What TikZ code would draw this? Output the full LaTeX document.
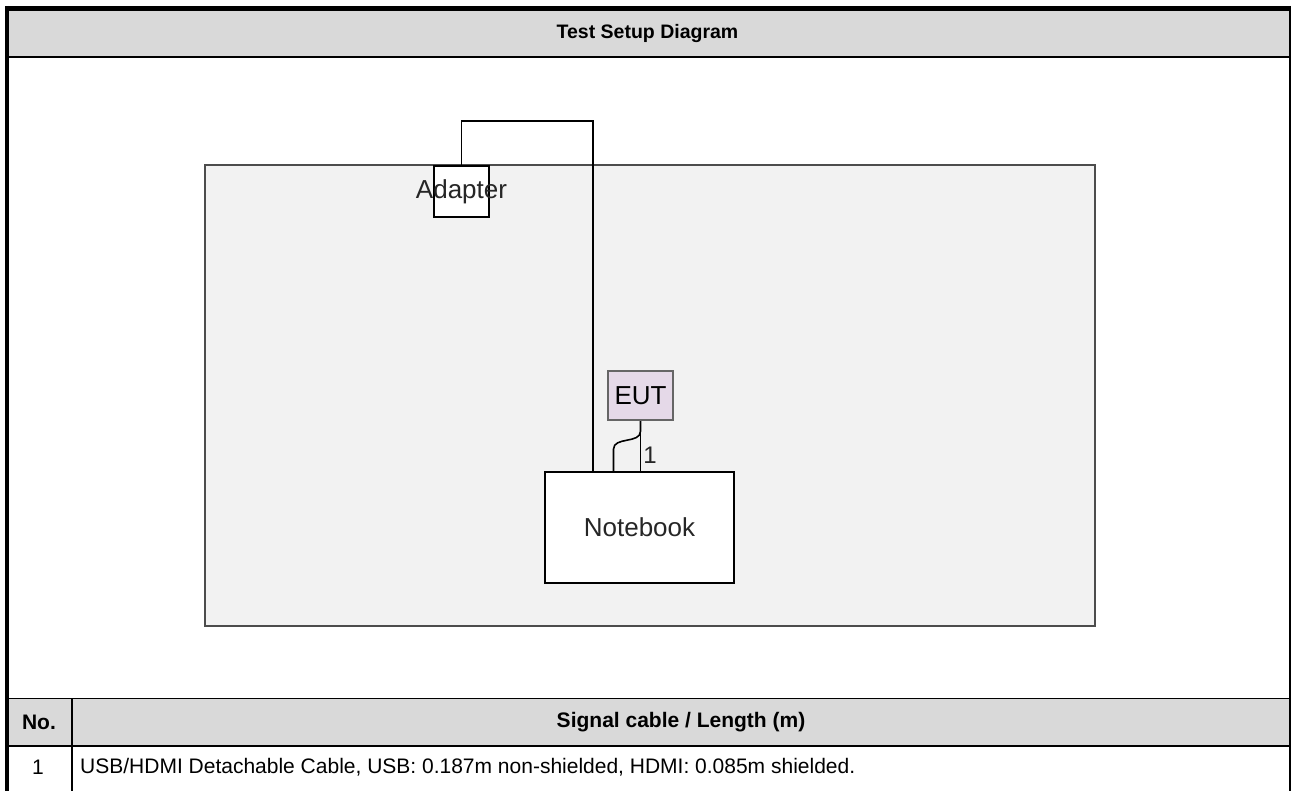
\documentclass[tikz,border=0pt]{standalone}
\usepackage{fontspec}
\setmainfont{Liberation Sans}
\usetikzlibrary{positioning, calc}
\definecolor{eutpurple}{RGB}{229,217,232}

\begin{document}
\begin{tikzpicture}[x=1pt, y=-1pt]

        % Setup the styles for the table and the boxes
        \tikzset{head cell/.style={font=\fontsize{21}{25}\selectfont\bfseries, inner sep=0pt},
                 body cell/.style={font=\fontsize{21}{25}\selectfont, inner sep=0pt},
                 bench box/.style={draw=black!70, line width=2pt, fill=black!5},
                 unit box/.style={draw=black, line width=1.6pt, fill=white, inner sep=0pt},
                 label font/.style={font=\fontsize{26}{30}\selectfont, text=black!85},
                 cable/.style={draw=black, line width=1.6pt}}

        \useasboundingbox (0,0) rectangle (1291,791);

        % Draw the table
        \fill[black!15] (9,11) rectangle (1289,56);
        \fill[black!15] (9,699) rectangle (1289,745);
        \draw[line width=2pt] (9,57) -- (1290,57);
        \draw[line width=1pt] (9,698) -- (1290,698);
        \draw[line width=2pt] (9,746) -- (1290,746);
        \draw[line width=1.3pt] (72,699) -- (72,791);
        \draw[line width=5pt] (5,8.5) -- (1291,8.5);
        \draw[line width=4pt] (7,6) -- (7,791);
        \draw[line width=1.5pt] (1290,6) -- (1290,791);

        \node[head cell, font=\fontsize{19.5}{23}\selectfont\bfseries] at (647.5, 34) (title) {Test Setup Diagram};
        \node[head cell] at (39, 722)     (no)     {No.};
        \node[head cell] at (681, 722)    (signal) {Signal cable / Length (m)};
        \node[body cell] at (38, 767)     (one)    {1};
        \node[body cell, anchor=west] at (80, 767) (cable one)
            {USB/HDMI Detachable Cable, USB: 0.187m non-shielded, HDMI: 0.085m shielded.};

        % Draw the boxes
        \node[bench box, minimum width=890pt, minimum height=461pt] at (650, 395.5) (bench) {};
        \node[unit box, minimum width=55pt, minimum height=51pt,
              label={[label font]center:Adapter}] at (461.5, 191.5) (adapter) {};
        \node[unit box, label font, minimum width=189pt, minimum height=111pt] at (639.5, 527.5) (notebook) {Notebook};
        \node[unit box, label font, text=black, draw=black!60, line width=2.4pt, fill=eutpurple,
              minimum width=65pt, minimum height=49pt] at (640.5, 395.5) (eut) {EUT};

        % Connect the boxes with cables
        \draw[cable] (adapter.north) -- ++(0,-44) -| ($(notebook.north)+(-46.5,0)$);
        \draw[cable] (eut.south) -- (eut.south |- notebook.north)
            node[pos=0.68, right=2pt, label font, font=\fontsize{24}{28}\selectfont, inner sep=0pt] {1};
        \draw[cable] (eut.south) -- ++(0,10) to[out=-90, in=90] ($(notebook.north)+(-26,-22)$)
            -- ($(notebook.north)+(-26,0)$);
    \end{tikzpicture}
\end{document}
